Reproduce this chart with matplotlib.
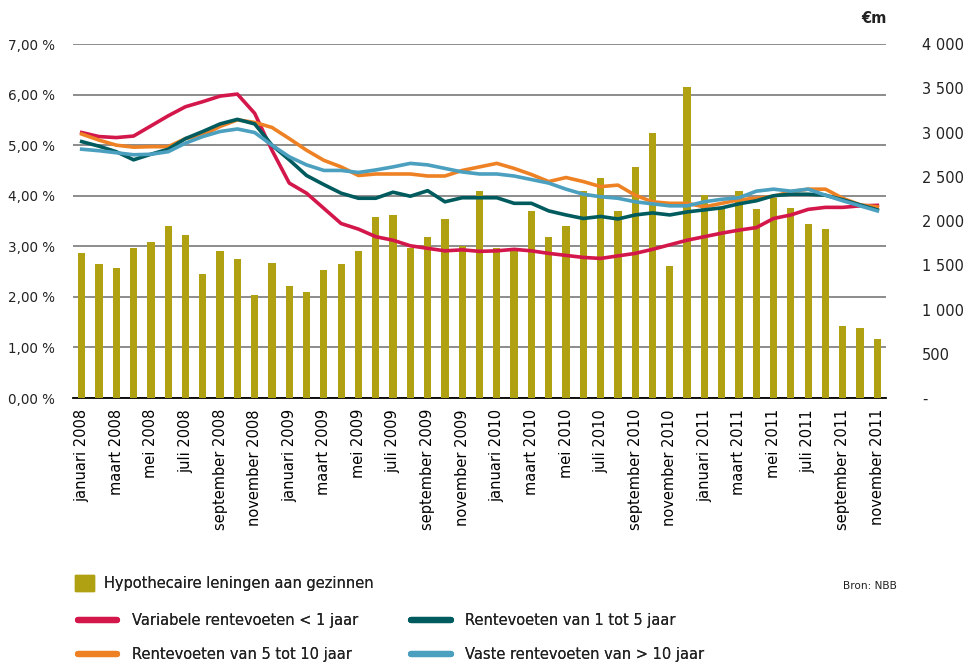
import numpy as np
import matplotlib
matplotlib.use('Agg')
import matplotlib.pyplot as plt
from matplotlib import font_manager
from matplotlib.patches import Patch
from matplotlib.lines import Line2D

# ---------------------------------------------------------------------------
# data: monthly, januari 2008 .. november 2011
# ---------------------------------------------------------------------------
maanden = ['januari', 'februari', 'maart', 'april', 'mei', 'juni', 'juli',
           'augustus', 'september', 'oktober', 'november', 'december']
jaren = [2008, 2009, 2010, 2011]
periodes = [f'{m} {j}' for j in jaren for m in maanden][:47]

# hypothecaire leningen (EUR mln)
leningen = [1635, 1511, 1469, 1699, 1759, 1944, 1838, 1405, 1657, 1571,
            1160, 1529, 1262, 1198, 1446, 1511, 1657, 2045, 2068, 1699,
            1819, 2026, 1718, 2335, 1699, 1684, 2113, 1819, 1944, 2335,
            2482, 2113, 2607, 2998, 1492, 3518, 2297, 2136, 2335, 2132,
            2256, 2150, 1966, 1906, 810, 788, 663]

# rentevoeten (%)
variabel_1j = [5.25, 5.17, 5.15, 5.18, 5.38, 5.58, 5.76, 5.86, 5.97, 6.01,
               5.63, 4.90, 4.25, 4.05, 3.75, 3.45, 3.34, 3.19, 3.12, 3.01,
               2.96, 2.91, 2.93, 2.90, 2.91, 2.94, 2.91, 2.86, 2.82, 2.78,
               2.76, 2.81, 2.86, 2.94, 3.03, 3.12, 3.19, 3.26, 3.32, 3.37,
               3.55, 3.62, 3.73, 3.77, 3.77, 3.80, 3.81]
rente_1_5 = [5.07, 4.98, 4.87, 4.71, 4.82, 4.92, 5.13, 5.27, 5.42, 5.51,
             5.42, 5.00, 4.71, 4.40, 4.22, 4.05, 3.95, 3.95, 4.07, 3.99,
             4.10, 3.88, 3.96, 3.96, 3.96, 3.85, 3.85, 3.70, 3.62, 3.55,
             3.59, 3.54, 3.62, 3.66, 3.62, 3.68, 3.72, 3.76, 3.84, 3.90,
             4.00, 4.03, 4.03, 4.01, 3.92, 3.82, 3.72]
rente_5_10 = [5.22, 5.10, 5.00, 4.96, 4.97, 4.97, 5.13, 5.20, 5.37, 5.50,
              5.45, 5.35, 5.13, 4.90, 4.70, 4.57, 4.40, 4.43, 4.43, 4.43,
              4.39, 4.39, 4.50, 4.57, 4.64, 4.54, 4.42, 4.28, 4.36, 4.28,
              4.18, 4.21, 4.01, 3.88, 3.85, 3.85, 3.78, 3.85, 3.92, 3.95,
              3.99, 4.08, 4.13, 4.13, 3.95, 3.82, 3.78]
vast_10 = [4.92, 4.89, 4.85, 4.81, 4.82, 4.87, 5.04, 5.17, 5.27, 5.32,
           5.25, 5.00, 4.77, 4.61, 4.50, 4.50, 4.46, 4.51, 4.57, 4.64,
           4.61, 4.54, 4.47, 4.43, 4.43, 4.39, 4.32, 4.25, 4.13, 4.03,
           3.98, 3.95, 3.88, 3.84, 3.80, 3.80, 3.88, 3.93, 3.96, 4.09,
           4.13, 4.09, 4.13, 4.01, 3.90, 3.80, 3.70]

pct_ticks = [0, 1, 2, 3, 4, 5, 6, 7]
eur_ticks = [0, 500, 1000, 1500, 2000, 2500, 3000, 3500, 4000]

series = [
    ('Variabele rentevoeten < 1 jaar', variabel_1j, '#d3174b'),
    ('Rentevoeten van 5 tot 10 jaar', rente_5_10, '#ee8123'),
    ('Rentevoeten van 1 tot 5 jaar', rente_1_5, '#005b5e'),
    ('Vaste rentevoeten van > 10 jaar', vast_10, '#4b9fbf'),
]
olijf = '#b0a113'

# font: narrow sans if present
namen = {f.name for f in font_manager.fontManager.ttflist}
if 'Liberation Sans Narrow' in namen:
    plt.rcParams['font.family'] = ['Liberation Sans Narrow', 'DejaVu Sans']
    fs = 12.5
else:
    plt.rcParams['font.family'] = ['DejaVu Sans']
    fs = 10.5
plt.rcParams['text.color'] = '#222222'

# ---------------------------------------------------------------------------
# figure
# ---------------------------------------------------------------------------
fig = plt.figure(figsize=(9.7, 6.64), dpi=100)
ax = fig.add_axes([0.0753, 0.4006, 0.8381, 0.5331])   # % axis + grid
ax_b = ax.twinx()                                      # bars (EUR mln)
ax_l = ax.twinx()                                      # lines (%)

x = np.arange(len(periodes))

ax_b.bar(x, leningen, width=0.42, color=olijf, zorder=2)
for naam, waarden, kleur in series:
    ax_l.plot(x, waarden, color=kleur, lw=2.6, solid_joinstyle='round')

for a in (ax, ax_b, ax_l):
    a.set_xlim(-0.5, len(periodes) - 0.5)
    for s in a.spines.values():
        s.set_visible(False)

ax.set_ylim(0, 7)
ax_l.set_ylim(0, 7)
ax_b.set_ylim(0, 4000)

# left axis
ax.set_yticks(pct_ticks)
ax.set_yticklabels([f'{v:.2f} %'.replace('.', ',') for v in pct_ticks])
ax.tick_params(axis='y', length=0, pad=13, labelsize=fs * 0.93, labelcolor='#222222')
ax.yaxis.grid(True, color='#6e6e6e', lw=1.1)
ax.set_axisbelow(True)

# right axis
ax_b.set_yticks(eur_ticks)
ax_b.set_yticklabels(['-' if v == 0 else f'{v:,}'.replace(',', ' ') for v in eur_ticks])
ax_b.tick_params(axis='y', length=0, pad=26, labelsize=fs, labelcolor='#222222')
for lab in ax_b.get_yticklabels():
    lab.set_horizontalalignment('left')
ax_l.set_yticks([])

# x axis: tick marks at month boundaries, labels every other month
ax.spines['bottom'].set_visible(True)
ax.spines['bottom'].set_color('black')
ax.spines['bottom'].set_linewidth(1.3)
ax.set_xticks(np.arange(-0.5, len(periodes), 1))
ax.set_xticklabels([])
ax.tick_params(axis='x', which='major', length=4, width=1.3, color='black')
ax.set_xticks(x[::2], minor=True)
ax.set_xticklabels(periodes[::2], minor=True, rotation=90, fontsize=fs)
ax.tick_params(axis='x', which='minor', length=0, pad=8)
for a in (ax_b, ax_l):
    a.set_xticks([])

fig.text(0.914, 0.972, '€m', ha='right', va='center', fontsize=fs, fontweight='bold')
fig.text(0.925, 0.118, 'Bron: NBB', ha='right', va='center', fontsize=fs * 0.72)

# legend
leg0 = fig.legend(handles=[Patch(color=olijf, label='Hypothecaire leningen aan gezinnen')],
                  loc='center left', bbox_to_anchor=(0.077, 0.122), frameon=False,
                  fontsize=fs, handlelength=1.3, handleheight=1.3, handletextpad=0.7,
                  borderpad=0, borderaxespad=0)
fig.add_artist(leg0)

def lijn(naam, kleur):
    return Line2D([], [], color=kleur, lw=4.5, solid_capstyle='round', label=naam)

for kolom, xa in ((series[:2], 0.080), (series[2:], 0.424)):
    leg = fig.legend(handles=[lijn(n, k) for n, _, k in kolom],
                     loc='center left', bbox_to_anchor=(xa, 0.0392), frameon=False,
                     fontsize=fs, handlelength=2.7, handletextpad=1.0,
                     labelspacing=1.3, borderpad=0, borderaxespad=0)
    fig.add_artist(leg)

fig.savefig('out.png', dpi=100)
